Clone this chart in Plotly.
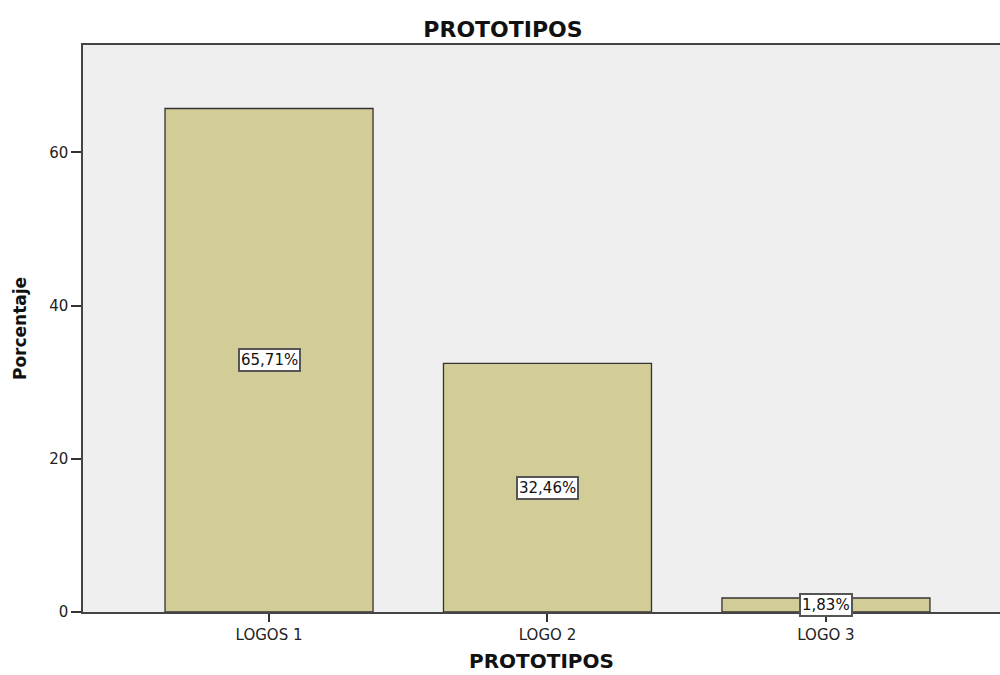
import plotly.graph_objects as go

categories = ["LOGOS 1", "LOGO 2", "LOGO 3"]
percentages = [65.71, 32.46, 1.83]
value_labels = ["65,71%", "32,46%", "1,83%"]
y_ticks = [0, 20, 40, 60]

positions = list(range(len(categories)))

TEXT_FONT = "DejaVu Sans, Liberation Sans, Arial"

fig = go.Figure()
fig.add_trace(go.Bar(
    x=positions,
    y=percentages,
    width=0.747,
    marker=dict(color="#d2cd97", line=dict(color="#333333", width=1.3)),
    hoverinfo="skip",
))

# value labels sit in white boxes at half the bar height
for pos, val, lab in zip(positions, percentages, value_labels):
    fig.add_annotation(
        x=pos, y=val / 2, text=lab, showarrow=False,
        font=dict(family=TEXT_FONT, size=15, color="#111111"),
        bgcolor="white", bordercolor="#555555", borderwidth=2, borderpad=1,
    )

fig.update_layout(
    width=1000, height=675,
    margin=dict(l=83, r=0, t=45, b=63),
    paper_bgcolor="white",
    plot_bgcolor="#efefef",
    showlegend=False,
    title=dict(
        text="<b>PROTOTIPOS</b>", x=0.503, xref="container", xanchor="center",
        y=1 - 29 / 675, yref="container", yanchor="middle",
        font=dict(family=TEXT_FONT, size=22, color="#111111"),
    ),
    xaxis=dict(
        range=[-0.668, 2.625],
        tickvals=positions, ticktext=categories,
        ticks="outside", ticklen=8, tickcolor="#333333", tickwidth=1.5,
        showline=True, linecolor="#444444", linewidth=1.5, mirror=True,
        showgrid=False, zeroline=False,
        tickfont=dict(family=TEXT_FONT, size=15, color="#222222"),
        title=dict(text="<b>PROTOTIPOS</b>", standoff=11,
                   font=dict(family=TEXT_FONT, size=20, color="#111111")),
    ),
    yaxis=dict(
        range=[0, 74],
        tickvals=y_ticks,
        ticks="outside", ticklen=10, tickcolor="#333333", tickwidth=1.5,
        showline=True, linecolor="#444444", linewidth=1.5,
        showgrid=False, zeroline=False,
        tickfont=dict(family=TEXT_FONT, size=15, color="#222222"),
        title=dict(text="<b>Porcentaje</b>", standoff=18,
                   font=dict(family=TEXT_FONT, size=17, color="#111111")),
    ),
)

fig.write_html("out.html")
